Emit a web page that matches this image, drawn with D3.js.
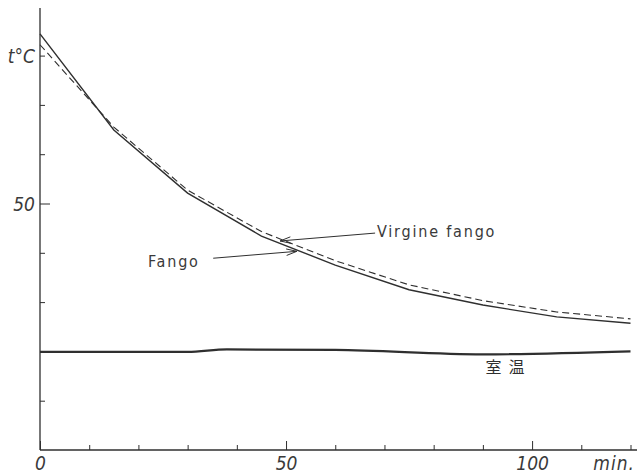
<!DOCTYPE html>
<html><head><meta charset="utf-8">
<script src="https://cdn.jsdelivr.net/npm/d3@7"></script>
<style>
html,body{margin:0;padding:0;background:#fff;}
svg{display:block;}
.num{font-family:"Liberation Sans Narrow","DejaVu Sans Condensed","Liberation Sans",sans-serif;font-style:italic;fill:#3a3a3a;}
.lab{font-family:"DejaVu Sans ExtraLight","DejaVu Sans Condensed","DejaVu Sans",sans-serif;fill:#3a3a3a;}
</style></head>
<body>
<script>
// ---- data ----
const times = [0, 15, 30, 45, 60, 75, 90, 105, 120];
const fango = [84.4, 64.9, 52.1, 43.4, 37.5, 32.5, 29.4, 27.0, 25.7];
const virgine = [82.2, 65.5, 52.7, 44.3, 38.4, 33.5, 30.3, 28.0, 26.6];
const roomTimes = [0, 30, 38, 60, 90, 120];
const roomTemp = [19.9, 19.9, 20.4, 20.3, 19.4, 20.0];
const xTicks = [0, 10, 20, 30, 40, 50, 60, 70, 80, 90, 100, 110, 120];
const xTickLabels = ["0", "", "", "", "", "50", "", "", "", "", "100", "", ""];
const yTicks = [10, 20, 30, 40, 50, 60, 70, 80];
const yTickLabels = ["", "", "", "", "50", "", "", "t°C"];
const seriesNames = ["Fango", "Virgine fango", "室 温"];

const W = 637, H = 473;
const svg = d3.select("body").append("svg").attr("width", W).attr("height", H);
const x = d3.scaleLinear().domain([0, 120]).range([40, 630.5]);
const y = d3.scaleLinear().domain([0, 80]).range([450, 55.6]);
const ink = "#2f2f2f";

// axes lines
svg.append("line").attr("x1", 40).attr("x2", 40).attr("y1", 8).attr("y2", 450)
  .attr("stroke", ink).attr("stroke-width", 1.3);
svg.append("line").attr("x1", 40).attr("x2", 637).attr("y1", 450).attr("y2", 450)
  .attr("stroke", ink).attr("stroke-width", 1.3);

// x axis ticks
const xAxis = d3.axisBottom(x).tickValues(xTicks).tickSize(0)
  .tickFormat((d, i) => xTickLabels[i]);
const gx = svg.append("g").attr("transform", "translate(0,450)").call(xAxis);
gx.select(".domain").remove();
gx.selectAll(".tick line").attr("y2", (d, i) => xTickLabels[i] ? -9 : -5)
  .attr("stroke", ink).attr("stroke-width", 1);
gx.selectAll(".tick text").attr("class", "num").attr("font-size", 19)
  .attr("y", 20).attr("dy", 0).attr("fill", "#3a3a3a").attr("text-anchor", "middle");

// y axis ticks
const yAxis = d3.axisLeft(y).tickValues(yTicks).tickSize(0)
  .tickFormat((d, i) => yTickLabels[i]);
const gy = svg.append("g").attr("transform", "translate(40,0)").call(yAxis);
gy.select(".domain").remove();
gy.selectAll(".tick line").attr("x2", (d, i) => yTickLabels[i] === "50" ? 10 : 5)
  .attr("stroke", ink).attr("stroke-width", 1);
gy.selectAll(".tick text").attr("class", "num").attr("font-size", 19)
  .attr("x", -5).attr("dy", "0.35em").attr("fill", "#3a3a3a");

// min. label
svg.append("text").attr("class", "num").attr("x", 635).attr("y", 470)
  .attr("text-anchor", "end").attr("font-size", 19).attr("font-style", "normal")
  .attr("letter-spacing", 1).text("min.");

// lines
const line = d3.line().x(d => x(d[0])).y(d => y(d[1]));
svg.append("path").datum(times.map((t, i) => [t, virgine[i]]))
  .attr("d", line).attr("fill", "none").attr("stroke", ink)
  .attr("stroke-width", 1.1).attr("stroke-dasharray", "7,4");
svg.append("path").datum(times.map((t, i) => [t, fango[i]]))
  .attr("d", line).attr("fill", "none").attr("stroke", ink)
  .attr("stroke-width", 1.4);
svg.append("path").datum(roomTimes.map((t, i) => [t, roomTemp[i]]))
  .attr("d", d3.line().x(d => x(d[0])).y(d => y(d[1])).curve(d3.curveMonotoneX))
  .attr("fill", "none").attr("stroke", ink).attr("stroke-width", 2.2);

// annotations with arrows
function arrow(x1, y1, x2, y2) {
  svg.append("line").attr("x1", x1).attr("y1", y1).attr("x2", x2).attr("y2", y2)
    .attr("stroke", ink).attr("stroke-width", 1);
  const a = Math.atan2(y2 - y1, x2 - x1), L = 11, s = 0.3;
  [a + Math.PI - s, a + Math.PI + s].forEach(b => {
    svg.append("line").attr("x1", x2).attr("y1", y2)
      .attr("x2", x2 + L * Math.cos(b)).attr("y2", y2 + L * Math.sin(b))
      .attr("stroke", ink).attr("stroke-width", 1);
  });
}
arrow(x(68.1), y(44.0), x(48.8), y(42.4));
arrow(x(35.2), y(38.9), x(52.2), y(40.3));

svg.append("text").attr("class", "lab").attr("x", 377).attr("y", 237)
  .attr("font-size", 16).attr("letter-spacing", 1.8).text(seriesNames[1]);
svg.append("text").attr("class", "lab").attr("x", 148).attr("y", 267)
  .attr("font-size", 16).attr("letter-spacing", 1.8).text(seriesNames[0]);
svg.append("text").attr("x", 505).attr("y", 373).attr("text-anchor", "middle")
  .attr("font-family", "Noto Sans CJK JP").attr("font-size", 16).attr("fill", ink)
  .attr("xml:space", "preserve").style("white-space", "pre").text("室  温");
</script>
</body></html>
